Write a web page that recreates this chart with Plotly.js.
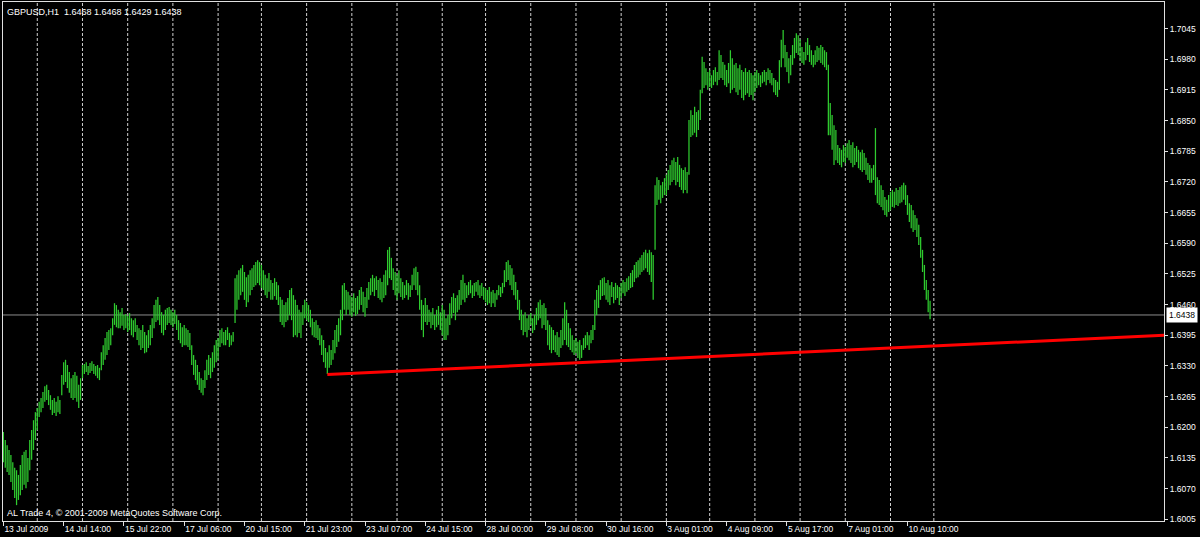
<!DOCTYPE html>
<html>
<head>
<meta charset="utf-8">
<script src="https://cdn.plot.ly/plotly-3.0.1.min.js"></script>
<style>
html,body{margin:0;padding:0;background:#000;}
#chart{width:1200px;height:537px;}
</style>
</head>
<body>
<div id="chart"></div>
<script>
// ---- DATA (GBPUSD H1, bar index 0 = 13 Jul 2009 06:00) ----
var symbolTitle = "GBPUSD,H1";
var lastBarOHLC = [1.6468, 1.6468, 1.6429, 1.6438]; // open, high, low, close of the last bar
var copyrightText = "AL Trade 4, \u00a9 2001-2009 MetaQuotes Software Corp.";

var highs = [
1.6190,1.6173,1.6162,1.6152,1.6141,1.6126,1.6114,1.6109,1.6099,1.6120,
1.6141,1.6148,1.6152,1.6135,1.6173,1.6194,1.6215,1.6232,1.6241,1.6254,
1.6262,1.6275,1.6287,1.6290,1.6279,1.6268,1.6258,1.6262,1.6254,1.6266,
1.6258,1.6311,1.6338,1.6343,1.6332,1.6317,1.6304,1.6311,1.6317,1.6309,
1.6290,1.6304,1.6332,1.6334,1.6338,1.6330,1.6336,1.6340,1.6334,1.6330,
1.6332,1.6326,1.6359,1.6374,1.6389,1.6402,1.6406,1.6410,1.6431,1.6463,
1.6459,1.6449,1.6444,1.6453,1.6438,1.6440,1.6436,1.6442,1.6431,1.6427,
1.6431,1.6417,1.6410,1.6406,1.6417,1.6402,1.6395,1.6406,1.6417,1.6431,
1.6459,1.6470,1.6476,1.6459,1.6444,1.6438,1.6449,1.6453,1.6455,1.6449,
1.6444,1.6449,1.6438,1.6427,1.6421,1.6412,1.6417,1.6410,1.6406,1.6400,
1.6374,1.6353,1.6343,1.6332,1.6317,1.6304,1.6300,1.6321,1.6343,1.6353,
1.6347,1.6359,1.6374,1.6385,1.6389,1.6406,1.6410,1.6402,1.6406,1.6412,
1.6400,1.6395,1.6402,1.6516,1.6523,1.6533,1.6537,1.6544,1.6529,1.6518,
1.6523,1.6533,1.6537,1.6544,1.6550,1.6554,1.6550,1.6544,1.6533,1.6523,
1.6516,1.6527,1.6512,1.6506,1.6516,1.6508,1.6501,1.6476,1.6470,1.6459,
1.6465,1.6474,1.6491,1.6495,1.6480,1.6470,1.6459,1.6449,1.6444,1.6459,
1.6470,1.6465,1.6459,1.6449,1.6431,1.6423,1.6427,1.6417,1.6410,1.6395,
1.6385,1.6368,1.6359,1.6374,1.6364,1.6385,1.6406,1.6417,1.6431,1.6449,
1.6501,1.6506,1.6491,1.6487,1.6480,1.6476,1.6484,1.6474,1.6478,1.6491,
1.6497,1.6487,1.6476,1.6495,1.6508,1.6516,1.6523,1.6516,1.6520,1.6512,
1.6516,1.6508,1.6523,1.6533,1.6576,1.6582,1.6559,1.6537,1.6529,1.6523,
1.6533,1.6516,1.6508,1.6501,1.6512,1.6506,1.6501,1.6523,1.6537,1.6540,
1.6529,1.6501,1.6470,1.6459,1.6474,1.6459,1.6449,1.6444,1.6453,1.6438,
1.6449,1.6457,1.6444,1.6459,1.6449,1.6431,1.6438,1.6463,1.6476,1.6484,
1.6474,1.6480,1.6491,1.6512,1.6523,1.6506,1.6501,1.6508,1.6512,1.6501,
1.6506,1.6508,1.6512,1.6501,1.6506,1.6497,1.6495,1.6491,1.6497,1.6487,
1.6491,1.6484,1.6491,1.6501,1.6497,1.6506,1.6533,1.6550,1.6554,1.6544,
1.6537,1.6523,1.6508,1.6491,1.6470,1.6449,1.6438,1.6444,1.6431,1.6438,
1.6442,1.6431,1.6438,1.6453,1.6465,1.6470,1.6459,1.6463,1.6453,1.6427,
1.6417,1.6412,1.6406,1.6395,1.6402,1.6391,1.6406,1.6431,1.6465,1.6449,
1.6421,1.6410,1.6395,1.6385,1.6389,1.6381,1.6385,1.6374,1.6389,1.6395,
1.6402,1.6395,1.6406,1.6417,1.6470,1.6491,1.6501,1.6512,1.6516,1.6518,
1.6506,1.6512,1.6501,1.6508,1.6497,1.6506,1.6501,1.6497,1.6506,1.6512,
1.6508,1.6516,1.6520,1.6527,1.6533,1.6544,1.6550,1.6554,1.6559,1.6565,
1.6571,1.6576,1.6569,1.6576,1.6571,1.6565,1.6713,1.6730,1.6724,1.6713,
1.6720,1.6728,1.6735,1.6745,1.6756,1.6766,1.6771,1.6762,1.6773,1.6756,
1.6749,1.6745,1.6751,1.6741,1.6851,1.6872,1.6862,1.6879,1.6868,1.6872,
1.6915,1.6985,1.6974,1.6961,1.6953,1.6957,1.6946,1.6957,1.6963,1.6953,
1.6999,1.6989,1.6974,1.6968,1.6957,1.6972,1.6999,1.6982,1.6968,1.6972,
1.6961,1.6968,1.6957,1.6953,1.6961,1.6953,1.6957,1.6951,1.6946,1.6953,
1.6957,1.6951,1.6946,1.6953,1.6957,1.6953,1.6961,1.6957,1.6951,1.6940,
1.6936,1.6932,1.6978,1.7021,1.7042,1.7010,1.6995,1.6982,1.6989,1.7010,
1.7025,1.7035,1.7031,1.7021,1.7006,1.6995,1.7016,1.7025,1.7010,1.6999,
1.6989,1.6999,1.7008,1.7004,1.7010,1.7006,1.6999,1.6995,1.6968,1.6887,
1.6862,1.6840,1.6830,1.6798,1.6792,1.6788,1.6798,1.6794,1.6802,1.6809,
1.6798,1.6804,1.6792,1.6796,1.6788,1.6783,1.6788,1.6781,1.6771,1.6760,
1.6756,1.6749,1.6756,1.6834,1.6730,1.6724,1.6713,1.6703,1.6688,1.6682,
1.6692,1.6699,1.6703,1.6699,1.6707,1.6703,1.6709,1.6713,1.6718,1.6713,
1.6692,1.6675,1.6671,1.6660,1.6650,1.6643,1.6629,1.6603,1.6576,1.6544,
1.6512,1.6491,1.6468
];

var lows = [
1.6126,1.6114,1.6105,1.6099,1.6084,1.6067,1.6050,1.6035,1.6046,1.6056,
1.6067,1.6078,1.6071,1.6084,1.6109,1.6131,1.6152,1.6173,1.6194,1.6222,
1.6232,1.6241,1.6254,1.6258,1.6247,1.6237,1.6226,1.6230,1.6224,1.6232,
1.6228,1.6268,1.6290,1.6296,1.6283,1.6273,1.6262,1.6258,1.6262,1.6254,
1.6241,1.6258,1.6304,1.6313,1.6317,1.6311,1.6315,1.6319,1.6313,1.6309,
1.6304,1.6300,1.6321,1.6332,1.6343,1.6353,1.6364,1.6374,1.6395,1.6417,
1.6412,1.6410,1.6410,1.6415,1.6406,1.6410,1.6402,1.6406,1.6395,1.6391,
1.6402,1.6385,1.6374,1.6364,1.6368,1.6357,1.6359,1.6368,1.6374,1.6389,
1.6410,1.6423,1.6427,1.6417,1.6400,1.6395,1.6406,1.6417,1.6421,1.6417,
1.6412,1.6419,1.6406,1.6385,1.6378,1.6370,1.6374,1.6374,1.6370,1.6364,
1.6332,1.6311,1.6300,1.6290,1.6279,1.6273,1.6268,1.6283,1.6300,1.6311,
1.6304,1.6317,1.6326,1.6338,1.6343,1.6370,1.6378,1.6374,1.6374,1.6385,
1.6370,1.6374,1.6381,1.6421,1.6449,1.6470,1.6480,1.6487,1.6470,1.6455,
1.6465,1.6480,1.6491,1.6497,1.6501,1.6506,1.6501,1.6495,1.6491,1.6480,
1.6474,1.6487,1.6470,1.6470,1.6478,1.6470,1.6459,1.6423,1.6417,1.6412,
1.6423,1.6427,1.6438,1.6427,1.6391,1.6395,1.6391,1.6400,1.6389,1.6417,
1.6431,1.6427,1.6423,1.6412,1.6395,1.6391,1.6389,1.6385,1.6374,1.6353,
1.6338,1.6326,1.6313,1.6326,1.6332,1.6343,1.6357,1.6370,1.6381,1.6395,
1.6427,1.6449,1.6438,1.6449,1.6438,1.6434,1.6444,1.6436,1.6440,1.6449,
1.6459,1.6444,1.6434,1.6453,1.6470,1.6480,1.6487,1.6478,1.6491,1.6474,
1.6470,1.6465,1.6474,1.6480,1.6501,1.6516,1.6512,1.6491,1.6480,1.6470,
1.6484,1.6476,1.6470,1.6474,1.6480,1.6470,1.6476,1.6491,1.6501,1.6491,
1.6480,1.6449,1.6406,1.6391,1.6423,1.6417,1.6423,1.6410,1.6417,1.6406,
1.6412,1.6417,1.6406,1.6395,1.6385,1.6385,1.6395,1.6417,1.6431,1.6442,
1.6427,1.6444,1.6449,1.6459,1.6470,1.6465,1.6474,1.6480,1.6484,1.6474,
1.6478,1.6487,1.6480,1.6474,1.6478,1.6470,1.6465,1.6459,1.6463,1.6455,
1.6463,1.6455,1.6470,1.6480,1.6476,1.6484,1.6497,1.6508,1.6512,1.6501,
1.6491,1.6480,1.6470,1.6449,1.6427,1.6406,1.6395,1.6402,1.6391,1.6406,
1.6417,1.6400,1.6406,1.6417,1.6427,1.6431,1.6410,1.6417,1.6406,1.6374,
1.6364,1.6357,1.6364,1.6359,1.6353,1.6349,1.6368,1.6374,1.6385,1.6374,
1.6370,1.6364,1.6359,1.6353,1.6357,1.6347,1.6343,1.6347,1.6364,1.6368,
1.6374,1.6364,1.6378,1.6385,1.6406,1.6438,1.6453,1.6470,1.6478,1.6480,
1.6470,1.6465,1.6459,1.6476,1.6463,1.6470,1.6474,1.6459,1.6474,1.6484,
1.6478,1.6487,1.6491,1.6495,1.6497,1.6508,1.6516,1.6518,1.6523,1.6529,
1.6533,1.6537,1.6529,1.6523,1.6508,1.6470,1.6576,1.6671,1.6682,1.6675,
1.6686,1.6692,1.6692,1.6703,1.6713,1.6720,1.6724,1.6713,1.6720,1.6709,
1.6703,1.6696,1.6703,1.6696,1.6735,1.6815,1.6819,1.6824,1.6815,1.6830,
1.6851,1.6908,1.6919,1.6925,1.6915,1.6921,1.6919,1.6925,1.6932,1.6925,
1.6936,1.6940,1.6936,1.6925,1.6921,1.6929,1.6908,1.6915,1.6919,1.6910,
1.6904,1.6915,1.6898,1.6893,1.6904,1.6908,1.6900,1.6904,1.6893,1.6910,
1.6919,1.6925,1.6921,1.6929,1.6932,1.6925,1.6936,1.6929,1.6925,1.6910,
1.6904,1.6900,1.6915,1.6963,1.6982,1.6963,1.6953,1.6929,1.6946,1.6968,
1.6982,1.6993,1.6989,1.6978,1.6972,1.6968,1.6978,1.6989,1.6974,1.6968,
1.6963,1.6968,1.6974,1.6978,1.6972,1.6968,1.6963,1.6957,1.6819,1.6819,
1.6788,1.6756,1.6766,1.6760,1.6756,1.6751,1.6762,1.6760,1.6771,1.6766,
1.6760,1.6751,1.6756,1.6762,1.6749,1.6745,1.6741,1.6745,1.6735,1.6724,
1.6718,1.6718,1.6724,1.6692,1.6675,1.6671,1.6667,1.6660,1.6650,1.6646,
1.6656,1.6660,1.6667,1.6665,1.6671,1.6669,1.6675,1.6677,1.6682,1.6671,
1.6650,1.6635,1.6622,1.6614,1.6618,1.6603,1.6586,1.6559,1.6529,1.6491,
1.6470,1.6444,1.6429
];

// time-axis labels (every 32 bars) and day separators (bar index of first bar of each day)
var labelBars = [0,32,64,96,128,160,192,224,256,288,320,352,384,416,448,480];
var timeLabels = ["13 Jul 2009","14 Jul 14:00","15 Jul 22:00","17 Jul 06:00","20 Jul 15:00",
  "21 Jul 23:00","23 Jul 07:00","24 Jul 15:00","28 Jul 00:00","29 Jul 08:00","30 Jul 16:00",
  "3 Aug 01:00","4 Aug 09:00","5 Aug 17:00","7 Aug 01:00","10 Aug 10:00"];
var dayStartBars = [18,42,66,90,114,137,161,185,209,233,256,280,304,328,352,375,399,423,447,471,494];

// price scale labels
var priceTicks = [1.6005,1.6070,1.6135,1.6200,1.6265,1.6330,1.6395,1.6460,1.6525,1.6590,
  1.6655,1.6720,1.6785,1.6850,1.6915,1.6980,1.7045];

// trend line anchors (bar index, price)
var trendBars = [172, 616.5];
var trendPrices = [1.6312, 1.6395];

// ---- BUILD ----
var bx = [], by = [];
for (var i = 0; i < highs.length; i++) {
  bx.push(i, i, null);
  by.push(lows[i], highs[i], null);
}

var FONT = '"Liberation Sans", Arial, sans-serif';
var frameColor = '#e0e0e0';
var xRange = [-0.2, 616.2];

var traces = [
  {
    type: 'scatter', mode: 'lines', x: bx, y: by,
    line: {color: '#2fcc2f', width: 1.25},
    hoverinfo: 'skip', showlegend: false, connectgaps: false
  },
  {
    type: 'scatter', mode: 'lines', x: trendBars, y: trendPrices,
    line: {color: '#ff0000', width: 3},
    hoverinfo: 'skip', showlegend: false, cliponaxis: true
  }
];

var shapes = dayStartBars.map(function (b) {
  return {type: 'line', xref: 'x', yref: 'paper', x0: b, x1: b, y0: 0, y1: 1,
    layer: 'below', line: {color: '#d0d0d0', width: 1, dash: '3px,2px'}};
});
shapes.push({type: 'line', xref: 'paper', yref: 'y', x0: 0, x1: 1,
  y0: lastBarOHLC[3], y1: lastBarOHLC[3], layer: 'below',
  line: {color: '#8c8c8c', width: 1}});

var layout = {
  width: 1200, height: 537,
  paper_bgcolor: '#000000', plot_bgcolor: '#000000',
  margin: {l: 3, r: 36, t: 2, b: 16, pad: 0},
  showlegend: false,
  font: {family: FONT, color: '#ffffff', size: 8},
  xaxis: {
    range: xRange, fixedrange: true,
    tickmode: 'array', tickvals: labelBars, ticktext: timeLabels,
    ticks: 'outside', ticklen: 4, tickwidth: 1, tickcolor: frameColor,
    ticklabelposition: 'outside right',
    tickfont: {family: FONT, color: '#ffffff', size: 8.5},
    showgrid: false, zeroline: false,
    showline: true, linecolor: frameColor, linewidth: 1, mirror: true
  },
  yaxis: {
    range: [1.60014, 1.71012], fixedrange: true, side: 'right',
    tickmode: 'array', tickvals: priceTicks,
    ticktext: priceTicks.map(function (v) { return v.toFixed(4); }),
    ticks: 'outside', ticklen: 3, tickwidth: 1, tickcolor: frameColor,
    tickfont: {family: FONT, color: '#ffffff', size: 8.5},
    showgrid: false, zeroline: false,
    showline: true, linecolor: frameColor, linewidth: 1, mirror: true
  },
  shapes: shapes,
  annotations: [
    {
      xref: 'paper', yref: 'paper', x: 0, y: 1, xanchor: 'left', yanchor: 'top',
      xshift: 2, yshift: -3, showarrow: false,
      text: symbolTitle + '\u00a0\u00a0' + lastBarOHLC.map(function (v) { return v.toFixed(4); }).join(' '),
      font: {family: FONT, color: '#ffffff', size: 9}
    },
    {
      xref: 'paper', yref: 'paper', x: 0, y: 0, xanchor: 'left', yanchor: 'bottom',
      xshift: 2, yshift: 1, showarrow: false,
      text: copyrightText,
      font: {family: FONT, color: '#ffffff', size: 9}
    },
    {
      xref: 'paper', yref: 'y', x: 1, y: lastBarOHLC[3], xanchor: 'left', yanchor: 'middle',
      xshift: 2, showarrow: false, text: lastBarOHLC[3].toFixed(4),
      bgcolor: '#ffffff', borderpad: 2,
      font: {family: FONT, color: '#000000', size: 8.5}
    }
  ]
};

Plotly.newPlot('chart', traces, layout, {staticPlot: true, displayModeBar: false});
</script>
</body>
</html>
